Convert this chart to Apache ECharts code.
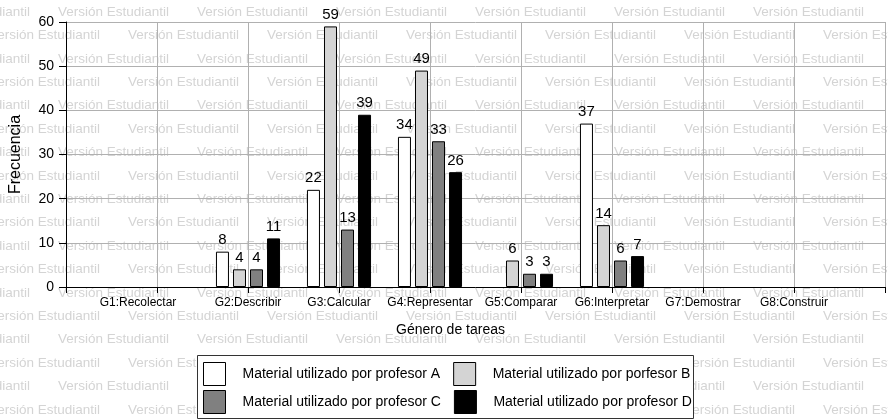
<!DOCTYPE html>
<html>
<head>
<meta charset="utf-8">
<script src="https://cdn.jsdelivr.net/npm/echarts@6/dist/echarts.min.js"></script>
<style>
html,body{margin:0;padding:0;background:#fff;}
#chart{width:888px;height:420px;}
</style>
</head>
<body>
<div id="chart"></div>
<script>
// ---- data ----
const categories = ['G1:Recolectar', 'G2:Describir', 'G3:Calcular', 'G4:Representar', 'G5:Comparar', 'G6:Interpretar', 'G7:Demostrar', 'G8:Construir'];
const seriesNames = ['Material utilizado por profesor A', 'Material utilizado por porfesor B', 'Material utilizado por profesor C', 'Material utilizado por profesor D'];
const profA = [null, 8, 22, 34, null, 37, null, null];
const profB = [null, 4, 59, 49, 6, 14, null, null];
const profC = [null, 4, 13, 33, 3, 6, null, null];
const profD = [null, 11, 39, 26, 3, 7, null, null];
const yMin = 0, yMax = 60, yStep = 10;
const xTitle = 'Género de tareas';
const yTitle = 'Frecuencia';
const watermarkText = 'Versión Estudiantil';

// ---- chart ----
const FONT = '"Liberation Sans", Arial, sans-serif';
const colors = ['#ffffff', '#d4d4d4', '#808080', '#000000'];
const values = [profA, profB, profC, profD];

const axisData = [''].concat(categories.map((c, i) => i === 0
  ? { value: c, textStyle: { padding: [0, 38, 0, 0] } }
  : c)).concat(['']);

const series = seriesNames.map((name, i) => ({
  name: name,
  type: 'bar',
  data: [null].concat(values[i]).concat([null]),
  barWidth: 13,
  barGap: '31%',
  itemStyle: { color: colors[i], borderColor: '#000', borderWidth: 1 },
  label: {
    show: true, position: 'top', distance: 4,
    fontSize: 15, color: '#000', fontFamily: FONT
  },
  z: 3
}));

// watermark (decoration)
const wm = [];
for (let r = 0; r < 19; r++) {
  const y = 12 + r * 23.4;
  const start = (r % 2 === 0 ? 58 : 128) - 139 * 2;
  for (let x = start; x < 900; x += 139) {
    wm.push({
      type: 'text', x: x, y: y, silent: true,
      style: { text: watermarkText, fill: '#d4d4d4', font: '13.5px ' + FONT, verticalAlign: 'middle', align: 'left' }
    });
  }
}

const legendBase = {
  orient: 'horizontal', left: 203, padding: 0,
  icon: 'rect', itemWidth: 22, itemHeight: 23, itemGap: 13,
  itemStyle: { borderColor: '#000', borderWidth: 1 },
  textStyle: { fontSize: 14, color: '#000', fontFamily: FONT, width: 198, padding: [0, 0, 0, 12] },
  selectedMode: false, z: 5
};

const chart = echarts.init(document.getElementById('chart'), null, { renderer: 'canvas' });
chart.setOption({
  backgroundColor: '#ffffff',
  animation: false,
  textStyle: { fontFamily: FONT },
  grid: { left: 65, right: 1, top: 22, bottom: 133, containLabel: false },
  graphic: [
    { type: 'group', z: -5, silent: true, children: wm },
    { type: 'rect', z: 1, silent: true, shape: { x: 197.5, y: 355.5, width: 496, height: 63 },
      style: { fill: '#fff', stroke: '#333', lineWidth: 1 } }
  ],
  legend: [
    Object.assign({}, legendBase, { data: seriesNames.slice(0, 2), top: 362 }),
    Object.assign({}, legendBase, { data: seriesNames.slice(2, 4), top: 390 })
  ],
  xAxis: {
    type: 'category',
    data: axisData,
    boundaryGap: false,
    name: xTitle,
    nameLocation: 'middle',
    nameGap: 36,
    nameTextStyle: { fontSize: 14, color: '#000', fontFamily: FONT, padding: [0, 50, 0, 0] },
    axisLine: { show: true, lineStyle: { color: '#000', width: 1 } },
    axisTick: { show: true, length: 6, interval: 0, lineStyle: { color: '#000' } },
    axisLabel: { interval: 0, fontSize: 12, color: '#000', margin: 10, fontFamily: FONT },
    splitLine: { show: true, interval: 0, lineStyle: { color: '#b0b0b0', width: 1 } }
  },
  yAxis: {
    type: 'value',
    min: yMin, max: yMax, interval: yStep,
    name: yTitle,
    nameLocation: 'middle',
    nameGap: 42,
    nameTextStyle: { fontSize: 16, color: '#000', fontFamily: FONT },
    axisLine: { show: true, lineStyle: { color: '#000', width: 1 } },
    axisTick: { show: true, length: 7, lineStyle: { color: '#000' } },
    axisLabel: { fontSize: 14, color: '#000', margin: 12, fontFamily: FONT },
    splitLine: { show: true, lineStyle: { color: '#b0b0b0', width: 1 } }
  },
  series: series
});
</script>
</body>
</html>
